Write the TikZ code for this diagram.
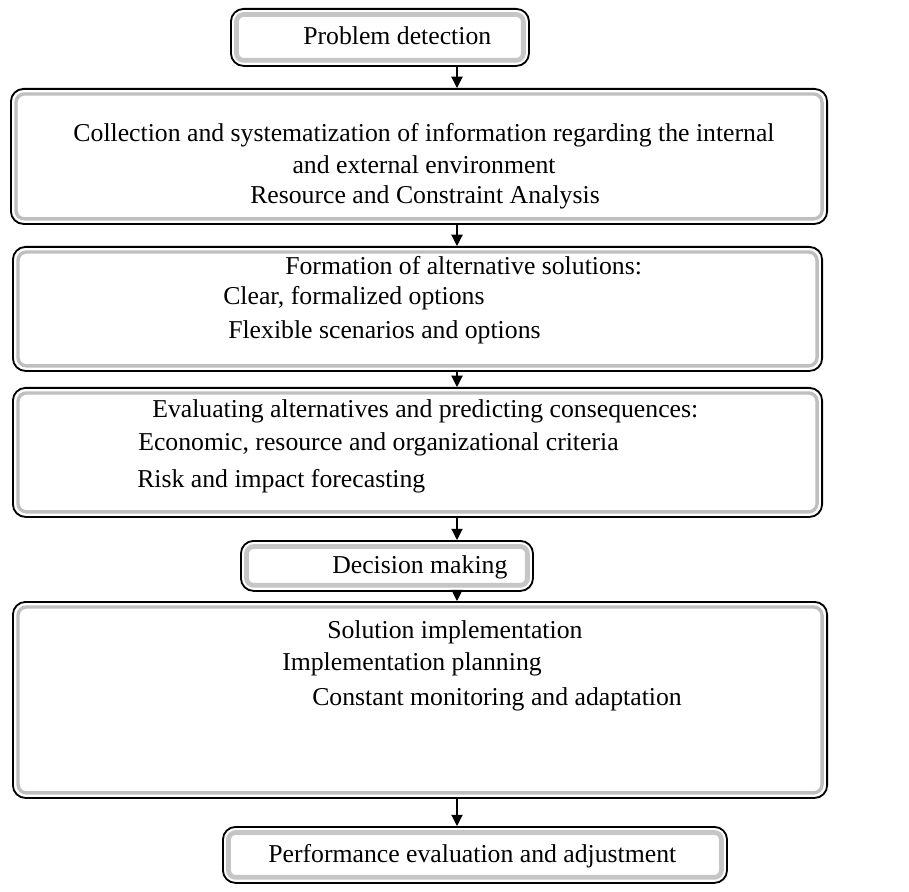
\documentclass[tikz,border=0pt]{standalone}
\usepackage{fontspec}
\setmainfont{Liberation Serif}
\usetikzlibrary{arrows.meta, calc}

\tikzset{
    stage/.style={draw=black, line width=1.3pt, rounded corners=9pt, fill=white, anchor=north west, inner sep=0pt,
        path picture={\draw[gray!50, line width=2.4pt, rounded corners=6pt] ([shift={(3.6pt,-3.6pt)}]path picture bounding box.north west) rectangle ([shift={(-3.6pt,3.6pt)}]path picture bounding box.south east);}},
    smallstage/.style={stage,
        path picture={\draw[gray!45, line width=3.4pt, rounded corners=5pt] ([shift={(4pt,-4pt)}]path picture bounding box.north west) rectangle ([shift={(-4pt,4pt)}]path picture bounding box.south east);}},
    txt/.style={inner sep=0pt, anchor=base west, font=\fontsize{18.3}{22}\selectfont},
    arr/.style={line width=0.8pt, -{Triangle[width=8pt,length=8pt]}}
}

\begin{document}
\begin{tikzpicture}[x=0.025cm, y=-0.025cm]
    \useasboundingbox (0,0) rectangle (909,892);
    % Draw the stage boxes
    \node[smallstage, minimum width=7.45cm, minimum height=1.425cm] (detect) at (230,8) {};
    \node[stage, minimum width=20.4cm, minimum height=3.375cm] (collect) at (10,88) {};
    \node[stage, minimum width=20.225cm, minimum height=3.1cm] (form) at (12,246) {};
    \node[stage, minimum width=20.225cm, minimum height=3.225cm] (eval) at (12,387) {};
    \node[smallstage, minimum width=7.3cm, minimum height=1.25cm] (decide) at (240,540) {};
    \node[stage, minimum width=20.35cm, minimum height=4.9cm] (implement) at (12,601) {};
    \node[smallstage, minimum width=12.6cm, minimum height=1.4cm] (perform) at (222,826) {};
    % Draw the texts
    \node[txt] (t-detect) at (303,45) {Problem detection};
    \node[txt, anchor=base] (t-collect1) at (424,142) {Collection and systematization of information regarding the internal};
    \node[txt, anchor=base] (t-collect2) at (424,174) {and external environment};
    \node[txt, anchor=base] (t-collect3) at (425,204) {Resource and Constraint Analysis};
    \node[txt] (t-form1) at (285,275) {Formation of alternative solutions:};
    \node[txt] (t-form2) at (223,305) {Clear, formalized options};
    \node[txt] (t-form3) at (228,339) {Flexible scenarios and options};
    \node[txt] (t-eval1) at (152,417) {Evaluating alternatives and predicting consequences:};
    \node[txt] (t-eval2) at (138,450) {Economic, resource and organizational criteria};
    \node[txt] (t-eval3) at (137,487) {Risk and impact forecasting};
    \node[txt] (t-decide) at (332,573) {Decision making};
    \node[txt] (t-impl1) at (327,638) {Solution implementation};
    \node[txt] (t-impl2) at (282,670) {Implementation planning};
    \node[txt] (t-impl3) at (312,705) {Constant monitoring and adaptation};
    \node[txt] (t-perform) at (268,862) {Performance evaluation and adjustment};
    % Draw the arrows between the stages
    \coordinate (ax) at (457,0);
    \draw[arr] (detect.south -| ax) -- (collect.north -| ax);
    \draw[arr] (collect.south -| ax) -- (form.north -| ax);
    \draw[arr] (form.south -| ax) -- (eval.north -| ax);
    \draw[arr] (eval.south -| ax) -- (decide.north -| ax);
    \draw[arr] (decide.south -| ax) -- (implement.north -| ax);
    \draw[arr] (implement.south -| ax) -- (perform.north -| ax);
\end{tikzpicture}
\end{document}
